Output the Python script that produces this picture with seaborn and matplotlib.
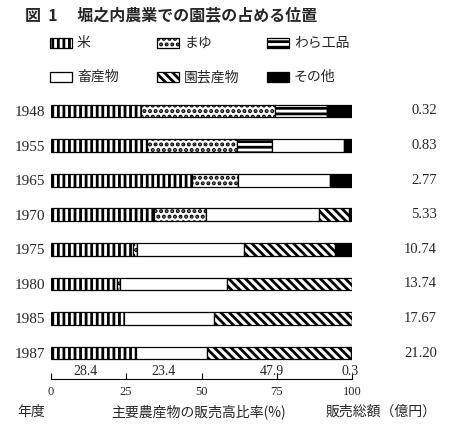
import matplotlib
matplotlib.use("Agg")
import matplotlib.pyplot as plt
import matplotlib.transforms as mtransforms
from matplotlib.patches import Rectangle
import seaborn as sns
import pandas as pd

years = ["1948", "1955", "1965", "1970", "1975", "1980", "1985", "1987"]
categories = ["米", "まゆ", "わら工品", "畜産物", "園芸産物", "その他"]
rice = [30.0, 31.8, 47.0, 34.2, 27.4, 22.1, 24.4, 28.4]
mayu = [44.5, 30.0, 15.1, 17.2, 1.1, 0.9, 0.0, 0.0]
straw = [17.0, 11.7, 0.0, 0.0, 0.0, 0.0, 0.0, 0.0]
livestock = [0.0, 23.7, 30.6, 37.4, 35.6, 35.5, 29.7, 23.4]
horti = [0.0, 0.0, 0.0, 10.0, 30.0, 41.5, 45.9, 47.9]
other = [8.5, 2.8, 7.3, 1.2, 5.9, 0.0, 0.0, 0.3]
totals = ["0.32", "0.83", "2.77", "5.33", "10.74", "13.74", "17.67", "21.20"]

BS = chr(92)  # backslash
hatches = ["|||", "...", "---", "", BS * 4, ""]
faces = ["white", "white", "white", "white", "white", "black"]

sns.set_theme(style="white")
plt.rcParams["font.family"] = ["Noto Sans CJK JP", "DejaVu Sans"]
plt.rcParams["hatch.linewidth"] = 2.0
plt.rcParams["hatch.color"] = "black"
SERIF = "Liberation Serif"

W, H = 461, 426
fig = plt.figure(figsize=(W / 100, H / 100), dpi=100)
ax = fig.add_axes([50.7 / W, 47 / H, 301.6 / W, 285.3 / H])

shares = pd.DataFrame({"年度": years, "米": rice, "まゆ": mayu, "わら工品": straw,
                       "畜産物": livestock, "園芸産物": horti, "その他": other})
lefts = shares[categories].cumsum(axis=1) - shares[categories]

for cat, hatch, face in zip(categories, hatches, faces):
    sns.barplot(data=shares, x=cat, y="年度", order=years, orient="h",
                color=face, saturation=1, width=0.37, errorbar=None,
                left=lefts[cat].to_numpy(), hatch=hatch,
                edgecolor="black", linewidth=0.9, ax=ax)

ax.set_xlim(0, 100)
ax.set_ylim(7.75, -0.5)
ax.set_xlabel("")
ax.set_ylabel("")
for side in ["top", "right", "left"]:
    ax.spines[side].set_visible(False)
ax.spines["bottom"].set_color("black")
ax.spines["bottom"].set_linewidth(0.8)
ax.set_xticks([0, 25, 50, 75, 100])
ax.tick_params(axis="x", direction="in", length=4, width=0.8, color="black",
               pad=5, labelsize=9, bottom=True)
ax.tick_params(axis="y", length=0, pad=4, labelsize=11)
for lab in ax.get_xticklabels() + ax.get_yticklabels():
    lab.set_fontfamily(SERIF)

# totals on the right
trans = mtransforms.blended_transform_factory(fig.transFigure, ax.transData)
for i, t in enumerate(totals):
    ax.text(437 / W, i, t, transform=trans, ha="right", va="center",
            fontsize=10.5, fontfamily=SERIF)

# 1987 breakdown below the last bar
sub_vals = [rice[-1], livestock[-1], horti[-1], other[-1]]
sub_pos = [11.4, 37.5, 73.4, 99.2]
for v, p in zip(sub_vals, sub_pos):
    ax.text(p, 7.52, f"{v:.1f}", ha="center", va="center",
            fontsize=10, fontfamily=SERIF)

# title
fig.text(25 / W, 1 - 15 / H, "図  1　 堀之内農業での園芸の占める位置",
         fontsize=11.5, fontweight="bold", va="center", ha="left")

# legend
col_x = [50, 157, 267]
row_y = [43, 77]
for i, (cat, hatch, face) in enumerate(zip(categories, hatches, faces)):
    r, c = divmod(i, 3)
    x0, yc = col_x[c], row_y[r]
    fig.add_artist(Rectangle((x0 / W, 1 - (yc + 5) / H), 22 / W, 10 / H,
                             transform=fig.transFigure, facecolor=face,
                             edgecolor="black", hatch=hatch, linewidth=0.9))
    fig.text((x0 + 27) / W, 1 - yc / H, cat, fontsize=10, va="center", ha="left")

# bottom captions
fig.text(17 / W, 1 - 412 / H, "年度", fontsize=10, va="center", ha="left")
fig.text(199 / W, 1 - 412 / H, "主要農産物の販売高比率(%)", fontsize=10,
         va="center", ha="center")
fig.text(437 / W, 1 - 412 / H, "販売総額（億円）", fontsize=10,
         va="center", ha="right")

fig.savefig("out.png", dpi=100, facecolor="white")
